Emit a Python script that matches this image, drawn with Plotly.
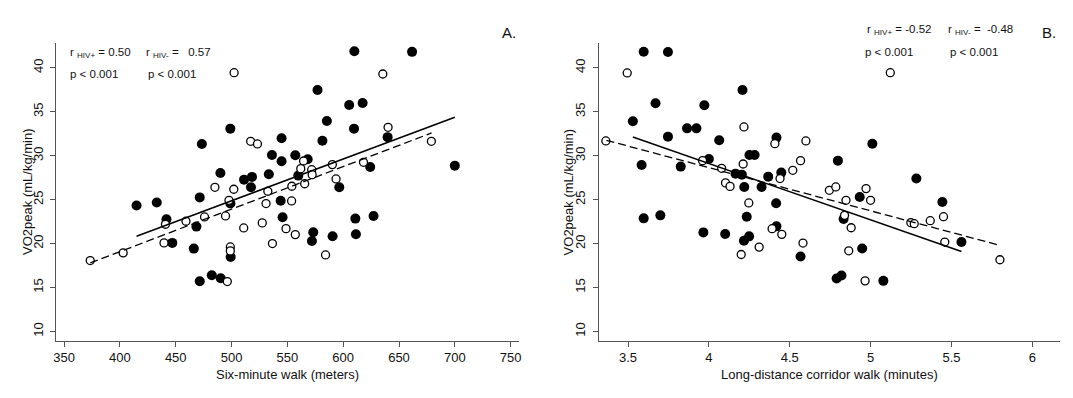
import plotly.graph_objects as go

# ---------------- data ----------------
# Panel A: Six-minute walk (m) vs VO2peak
a_pos_x = [610, 661.7, 577, 605.4, 617.4, 585.4, 498.9, 609.7, 639.8, 473.4, 544.8, 581.4,
           536.2, 557.1, 544.8, 568.2, 490, 624.2, 700, 511.2, 518.3, 533.4, 559.8, 517.4,
           596.5, 471.5, 433, 544, 499, 414.9, 441.7, 468.5, 545.7, 610.9, 627.2, 573.2,
           590.5, 611.4, 572, 446.9, 466.2, 499.2, 482.3, 490.3, 471.5]
a_pos_y = [41.86, 41.8, 37.46, 35.76, 35.98, 33.94, 33.07, 33.07, 32.1, 31.33, 31.97, 31.7,
           30.08, 30.04, 29.36, 29.58, 28.03, 28.71, 28.86, 27.27, 27.58, 27.88, 27.73, 26.4,
           26.4, 25.25, 24.68, 24.87, 24.55, 24.32, 22.77, 21.93, 22.99, 22.84, 23.14, 21.29,
           20.83, 21.06, 20.3, 20.08, 19.43, 18.48, 16.4, 16.06, 15.72]
a_neg_x = [502.3, 635.5, 640.2, 679, 517.1, 523.2, 564.5, 562, 571.8, 572.2, 590.3, 618.2,
           565.5, 593.6, 485.1, 502, 532.5, 554, 497.7, 530.9, 553.8, 494.6, 475.8, 459.2,
           440.8, 510.9, 527.5, 548.8, 557.1, 439.5, 402.9, 373.4, 536.6, 498.9, 498.9,
           584.2, 496.2]
a_neg_y = [39.43, 39.28, 33.22, 31.63, 31.63, 31.33, 29.39, 28.52, 28.4, 27.84, 28.98, 29.24,
           26.8, 27.35, 26.4, 26.18, 25.95, 26.52, 24.92, 24.55, 24.85, 23.14, 23.03, 22.54,
           22.2, 21.78, 22.35, 21.7, 21.02, 20.08, 18.94, 18.07, 20.0, 19.62, 19.17,
           18.71, 15.68]
a_fit_pos_x = [414.9, 700]
a_fit_pos_y = [20.83, 34.36]
a_fit_neg_x = [373.4, 679.2]
a_fit_neg_y = [17.8, 32.58]

# Panel B: Long-distance corridor walk (min) vs VO2peak
b_pos_x = [3.597, 3.747, 4.208, 3.67, 3.972, 3.53, 3.865, 3.923, 3.747, 4.064, 4.418, 5.011,
           4.798, 4.251, 4.283, 4.0, 3.584, 3.826, 4.165, 4.204, 4.448, 4.367, 4.219, 4.326,
           5.283, 3.597, 3.7, 3.966, 4.101, 4.234, 4.416, 4.418, 4.217, 4.249, 4.567, 4.833,
           4.948, 4.79, 4.82, 5.079, 5.444, 5.562, 4.933]
b_pos_y = [41.82, 41.78, 37.46, 35.95, 35.72, 33.9, 33.1, 33.1, 32.16, 31.74, 32.05, 31.36,
           29.43, 30.08, 30.08, 29.62, 28.94, 28.75, 27.95, 27.84, 28.07, 27.61, 26.44, 26.44,
           27.39, 22.87, 23.21, 21.27, 21.08, 23.06, 24.58, 21.96, 20.32, 20.82, 18.54, 22.79,
           19.45, 16.03, 16.37, 15.76, 24.73, 20.17, 25.3]
b_neg_x = [3.495, 5.122, 4.217, 3.363, 4.408, 4.6, 4.567, 4.519, 4.44, 4.212, 3.961, 4.079,
           4.103, 4.131, 4.745, 4.785, 4.972, 4.848, 5.0, 4.247, 4.391, 4.451, 4.2, 4.311,
           4.582, 4.839, 4.88, 4.865, 4.966, 5.249, 5.27, 5.369, 5.451, 5.459, 5.8]
b_neg_y = [39.4, 39.43, 33.26, 31.67, 31.36, 31.67, 29.43, 28.33, 27.39, 29.05, 29.43, 28.56,
           26.9, 26.5, 26.06, 26.44, 26.25, 24.92, 24.92, 24.62, 21.69, 21.05, 18.76, 19.6,
           20.06, 23.21, 21.8, 19.18, 15.76, 22.38, 22.26, 22.6, 23.06, 20.17, 18.16]
b_fit_pos_x = [3.53, 5.562]
b_fit_pos_y = [32.12, 19.1]
b_fit_neg_x = [3.367, 5.8]
b_fit_neg_y = [31.74, 19.8]

a_xticks = [350, 400, 450, 500, 550, 600, 650, 700, 750]
b_xticks = [3.5, 4, 4.5, 5, 5.5, 6]
b_xticklabels = ["3.5", "4", "4.5", "5", "5.5", "6"]
y_ticks = [10, 15, 20, 25, 30, 35, 40]

a_stats = ["r <sub>HIV+</sub> = 0.50", "r <sub>HIV-</sub> =&nbsp;&nbsp; 0.57", "p < 0.001", "p < 0.001"]
b_stats = ["r <sub>HIV+</sub> = -0.52", "r <sub>HIV-</sub> =&nbsp; -0.48", "p < 0.001", "p < 0.001"]

# ---------------- layout helpers ----------------
W, H = 1073, 398
FONT = "Arial, 'Liberation Sans', sans-serif"


def px(x):
    return x / W


def py(y):
    return 1 - y / H


fig = go.Figure()

filled = dict(color="black", size=10, line=dict(width=0))
hollow = dict(color="white", size=8, line=dict(color="black", width=1.3))

for xs, ys, xa, ya in [(a_pos_x, a_pos_y, "x", "y"), (b_pos_x, b_pos_y, "x2", "y2")]:
    fig.add_trace(go.Scatter(x=xs, y=ys, mode="markers", marker=filled, xaxis=xa, yaxis=ya,
                             showlegend=False, hoverinfo="skip"))
for xs, ys, xa, ya in [(a_neg_x, a_neg_y, "x", "y"), (b_neg_x, b_neg_y, "x2", "y2")]:
    fig.add_trace(go.Scatter(x=xs, y=ys, mode="markers", marker=hollow, xaxis=xa, yaxis=ya,
                             showlegend=False, hoverinfo="skip"))

for xs, ys, xa, ya in [(a_fit_pos_x, a_fit_pos_y, "x", "y"), (b_fit_pos_x, b_fit_pos_y, "x2", "y2")]:
    fig.add_trace(go.Scatter(x=xs, y=ys, mode="lines", line=dict(color="black", width=1.5),
                             xaxis=xa, yaxis=ya, showlegend=False, hoverinfo="skip"))
for xs, ys, xa, ya in [(a_fit_neg_x, a_fit_neg_y, "x", "y"), (b_fit_neg_x, b_fit_neg_y, "x2", "y2")]:
    fig.add_trace(go.Scatter(x=xs, y=ys, mode="lines",
                             line=dict(color="black", width=1.3, dash="8px,4px"),
                             xaxis=xa, yaxis=ya, showlegend=False, hoverinfo="skip"))

axis_common = dict(showgrid=False, zeroline=False, showline=True, linecolor="#555555",
                   linewidth=1.2, ticks="outside", ticklen=5, tickcolor="#555555",
                   tickwidth=1.2, tickfont=dict(family=FONT, size=13, color="#111111"))

y_top, y_bot = 34.7, 332.5
ydom = [py(y_bot), py(y_top)]
yrange = [8.98, 42.84]

fig.update_layout(
    width=W, height=H, margin=dict(l=0, r=0, t=0, b=0),
    paper_bgcolor="white", plot_bgcolor="white",
    xaxis=dict(domain=[px(45.5), px(510.5)], range=[343.0, 757.6], tickvals=a_xticks,
               anchor="y", **axis_common),
    yaxis=dict(domain=ydom, range=yrange, tickvals=y_ticks, tickangle=-90, anchor="x",
               ticklabelstandoff=2, **axis_common),
    xaxis2=dict(domain=[px(590.5), px(1054)], range=[3.319, 6.172], tickvals=b_xticks,
                ticktext=b_xticklabels, anchor="y2", **axis_common),
    yaxis2=dict(domain=ydom, range=yrange, tickvals=y_ticks, tickangle=-90, anchor="x2",
                ticklabelstandoff=2, **axis_common),
)

ann = []
txt = dict(family=FONT, size=13, color="#111111")
# axis titles
ann.append(dict(x=px(278), y=py(366), text="Six-minute walk (meters)", font=txt))
ann.append(dict(x=px(822), y=py(366), text="Long-distance corridor walk (minutes)", font=txt))
ann.append(dict(x=px(16), y=py(184), text="VO2peak (mL/kg/min)", textangle=-90, font=txt))
ann.append(dict(x=px(560), y=py(184), text="VO2peak (mL/kg/min)", textangle=-90, font=txt))
# panel letters
ann.append(dict(x=px(500), y=py(25), text="A.", font=dict(family=FONT, size=15, color="#111111")))
ann.append(dict(x=px(1043), y=py(25), text="B.", font=dict(family=FONT, size=15, color="#111111")))
# statistics
sfont = dict(family=FONT, size=11.5, color="#111111")
for t, x, y in zip(a_stats, [57, 134, 57, 136], [45, 45, 66, 66]):
    ann.append(dict(x=px(x), y=py(y), text=t, xanchor="left", font=sfont))
for t, x, y in zip(b_stats, [858, 939, 856, 941], [22, 22, 44, 44]):
    ann.append(dict(x=px(x), y=py(y), text=t, xanchor="left", font=sfont))

for a in ann:
    a.setdefault("xanchor", "center")
    a.update(xref="paper", yref="paper", yanchor="middle", showarrow=False)
fig.update_layout(annotations=ann)

fig.write_html("out.html")
